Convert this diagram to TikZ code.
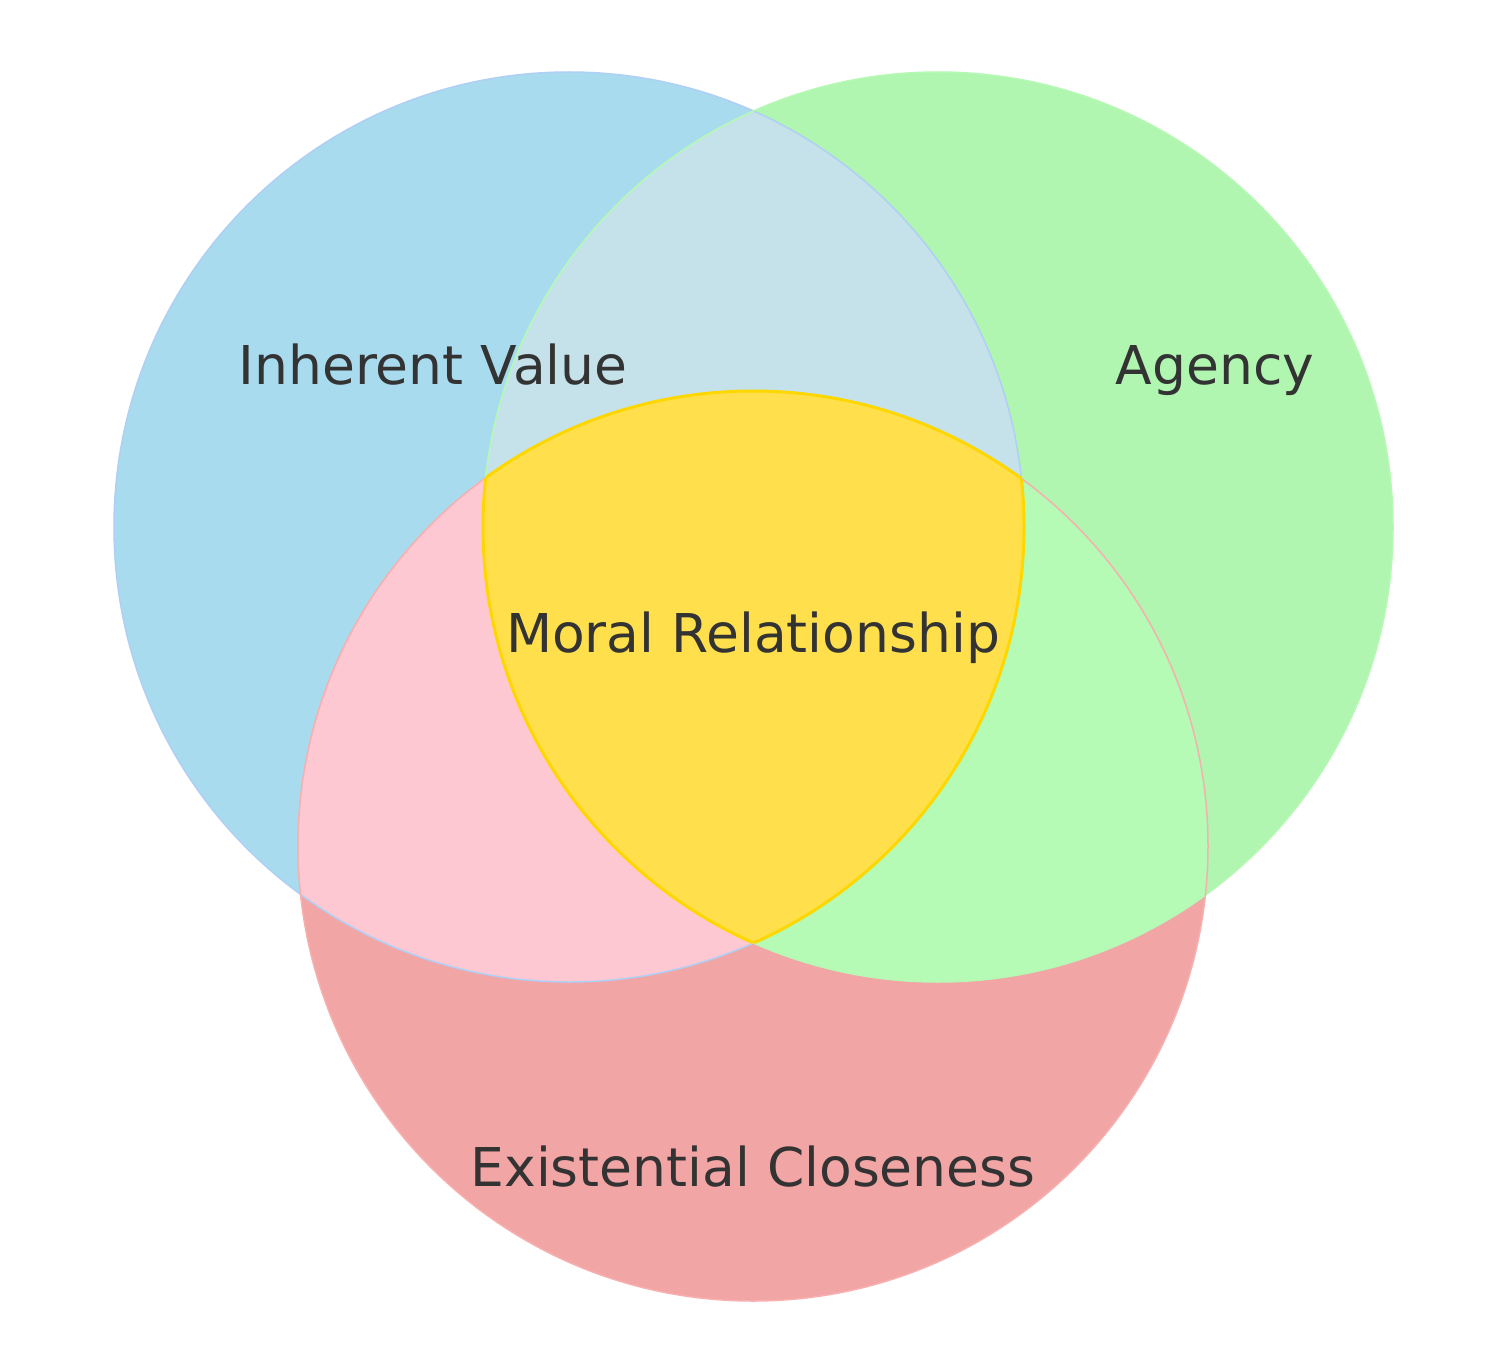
\documentclass[tikz,border=0pt]{standalone}
\usepackage{fontspec}
\setmainfont{DejaVu Sans}
\definecolor{vblue}{RGB}{168,219,238}
\definecolor{vgreen}{RGB}{176,245,176}
\definecolor{vred}{RGB}{242,165,165}
\definecolor{vbluegreen}{RGB}{197,226,234}
\definecolor{vbluered}{RGB}{253,200,210}
\definecolor{vgreenred}{RGB}{181,250,181}
\definecolor{vcentre}{RGB}{255,224,76}
\definecolor{vgold}{RGB}{255,215,0}
\definecolor{vtext}{RGB}{51,51,51}

\begin{document}
\begin{tikzpicture}[x=1pt,y=-1pt,
  setlabel/.style={text=vtext,inner sep=0pt,anchor=base,font=\fontsize{53.5}{64}\selectfont}]
\useasboundingbox (0,0) rectangle (1498,1364);
\fill[white] (0,0) rectangle (1498,1364);

% Circles
\fill[vblue]  (569,527) circle (455);
\fill[vgreen] (938,527) circle (455);
\fill[vred]   (753,846) circle (455);

% Pairwise overlaps
\begin{scope}
\clip (569,527) circle (455);
\fill[vbluegreen] (938,527) circle (455);
\fill[vbluered]   (753,846) circle (455);
\end{scope}
\begin{scope}
\clip (938,527) circle (455);
\fill[vgreenred] (753,846) circle (455);
\end{scope}

% Centre
\begin{scope}
\clip (569,527) circle (455);
\clip (938,527) circle (455);
\fill[vcentre] (753,846) circle (455);
\end{scope}

% Edges
\draw[vblue!85!blue!70!white,line width=1.5]  (569,527) circle (455);
\draw[vgreen!85!green!70!white,line width=1.5] (938,527) circle (455);
\draw[vred!85!red!70!white,line width=1.5]   (753,846) circle (455);
\begin{scope}
\clip (569,527) circle (455);
\clip (938,527) circle (455);
\draw[vgold,line width=3] (753,846) circle (455);
\end{scope}
\begin{scope}
\clip (753,846) circle (455);
\clip (938,527) circle (455);
\draw[vgold,line width=3] (569,527) circle (455);
\end{scope}
\begin{scope}
\clip (753,846) circle (455);
\clip (569,527) circle (455);
\draw[vgold,line width=3] (938,527) circle (455);
\end{scope}

% Text Node
\node[setlabel] (inherent) at (433,384) {Inherent Value};
% Text Node
\node[setlabel] (agency) at (1215,384) {Agency};
% Text Node
\node[setlabel] (moral) at (753,652) {Moral Relationship};
% Text Node
\node[setlabel] (closeness) at (753,1186) {Existential Closeness};

\end{tikzpicture}
\end{document}
